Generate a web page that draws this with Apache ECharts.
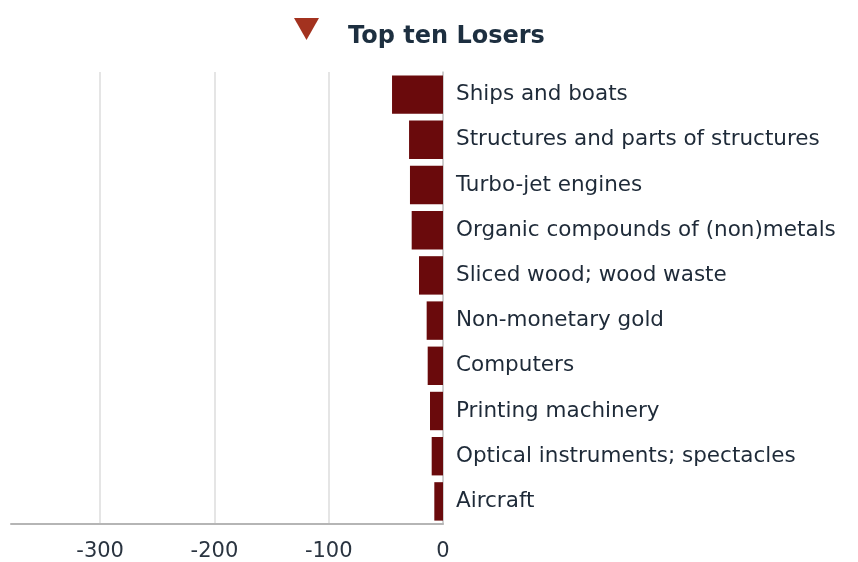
<!DOCTYPE html>
<html>
<head>
<meta charset="utf-8">
<script src="https://cdn.jsdelivr.net/npm/echarts@6/dist/echarts.min.js"></script>
<style>
  html, body { margin: 0; padding: 0; background: #fff; }
  #main { width: 858px; height: 562px; }
</style>
</head>
<body>
<div id="main"></div>
<script>
// top ten losers, top to bottom
var categories = [
  'Ships and boats',
  'Structures and parts of structures',
  'Turbo-jet engines',
  'Organic compounds of (non)metals',
  'Sliced wood; wood waste',
  'Non-monetary gold',
  'Computers',
  'Printing machinery',
  'Optical instruments; spectacles',
  'Aircraft'
];
var values = [-44.6, -29.7, -28.9, -27.4, -21, -14.3, -13.4, -11.4, -9.9, -7.6];
var xTicks = [-300, -200, -100, 0];

var FONT = 'DejaVu Sans, Verdana, sans-serif';

var dom = document.getElementById('main');
var myChart = echarts.init(dom, null, { renderer: 'canvas' });

var option = {
  animation: false,
  title: {
    text: 'Top ten Losers',
    left: 343,
    top: 20,
    textStyle: {
      fontFamily: FONT,
      fontSize: 24,
      fontWeight: 'bold',
      color: '#1d2f40'
    }
  },
  // red marker triangle next to the title
  graphic: [{
    type: 'polygon',
    shape: { points: [[294, 18], [319, 18], [306.5, 40]] },
    style: { fill: '#a3321f' }
  }],
  grid: { left: 11, right: 415, top: 72, bottom: 38 },
  xAxis: {
    type: 'value',
    min: -378,
    max: 0,
    axisLine: { show: true, lineStyle: { color: '#b5b5b5', width: 2 } },
    axisTick: { show: false },
    axisLabel: {
      showMinLabel: false,
      margin: 17,
      fontFamily: FONT,
      fontSize: 21,
      color: '#2a3440',
      formatter: function (v) {
        return xTicks.indexOf(v) >= 0 ? String(v) : '';
      }
    },
    splitLine: { show: true, showMinLine: false, lineStyle: { color: '#dcdcdc', width: 1.5 } }
  },
  yAxis: {
    type: 'category',
    data: categories,
    inverse: true,
    position: 'right',
    axisLine: { show: true, lineStyle: { color: '#c8c8c8', width: 1.5 } },
    axisTick: { show: false },
    axisLabel: {
      margin: 13,
      align: 'left',
      fontFamily: FONT,
      fontSize: 21.5,
      color: '#1e2a38',
      padding: [0, 0, 7, 0]
    },
    splitLine: { show: false }
  },
  series: [{
    type: 'bar',
    data: values,
    barCategoryGap: '15%',
    itemStyle: { color: '#6a0a0c' }
  }]
};

myChart.setOption(option);
window.addEventListener('resize', myChart.resize);
</script>
</body>
</html>
